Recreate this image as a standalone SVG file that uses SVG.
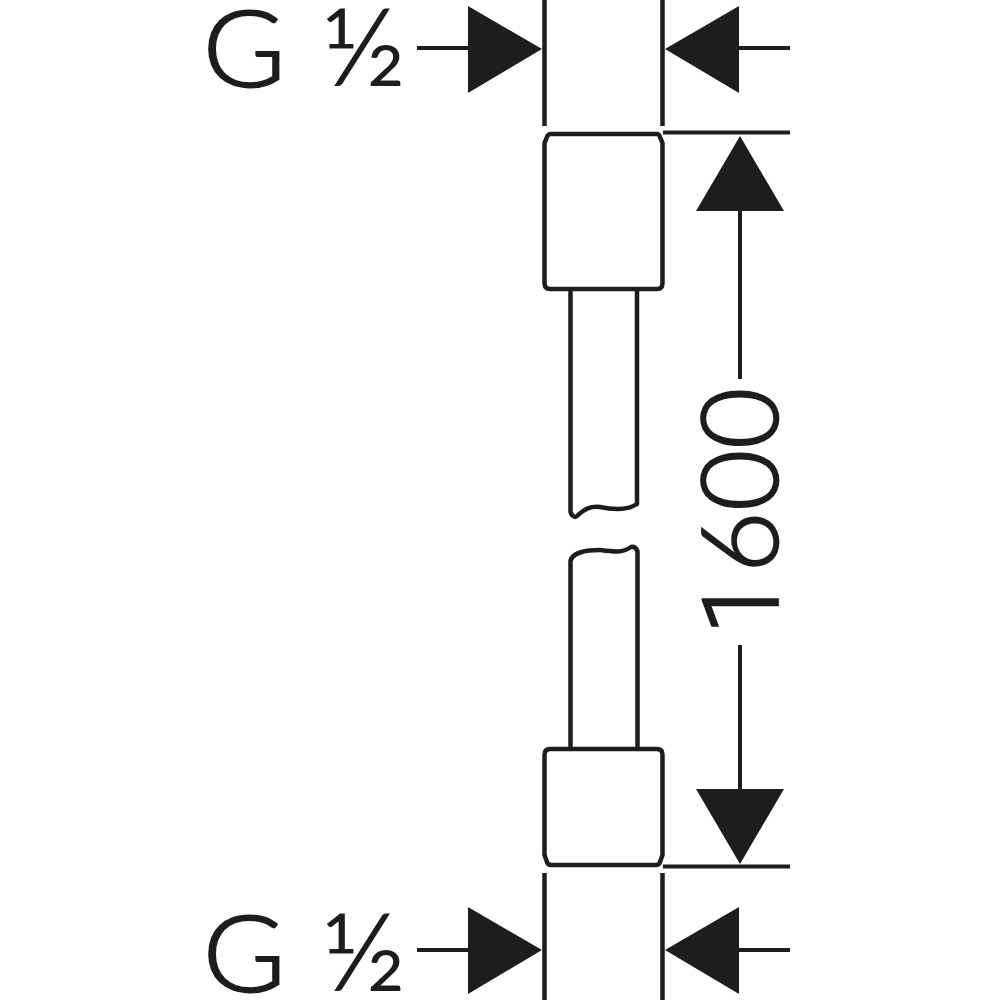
<svg xmlns="http://www.w3.org/2000/svg" width="1000" height="1000" viewBox="0 0 1000 1000">
<style>
.l{fill:none;stroke:#1d1d1b;stroke-width:4.5;stroke-linejoin:round;stroke-linecap:butt}
.d{fill:none;stroke:#1d1d1b;stroke-width:4}
.a{fill:#1d1d1b}
text{font-family:"Lato","Liberation Sans",sans-serif;font-weight:300;fill:#1d1d1b;stroke:#1d1d1b;stroke-width:1.8}
.one{font-family:"Roboto","Liberation Sans",sans-serif}
</style>
<g id="hose">
<path class="l" d="M544.500 0V126M662.500 0V126"/>
<path class="l" d="M551 134H657Q659 134 660 137L662.500 143V283Q662.500 289 657 289H550Q544.500 289 544.500 283V143L547 137Q548 134 551 134Z"/>
<path class="l" d="M570.500 289V511Q570.500 514 573 516Q576 518 578 515C585 509 590 506 600 507C615 510 628 510 637 504V289"/>
<path class="l" d="M570.500 748V561C572 553 585 550 600 550C615 552 622 553 631 547Q635 546 637.500 551V748"/>
<path class="l" d="M550 749H657Q662.500 749 662.500 755V855L660 862Q659 865 656 865H551Q548 865 547 862L544.500 855V755Q544.500 749 550 749Z"/>
<path class="l" d="M544.500 873V1000M662.500 873V1000"/>
</g>
<g id="connectors">
<path class="d" d="M417 48H470M739 48H790M417 950H470M739 950H790"/>
<path class="d" d="M663 132.500H790M663 866.500H790M740 205V379M740 645V795"/>
<polygon class="a" points="468,6 468,93 542,49"/>
<polygon class="a" points="739,6 739,93 665,49"/>
<polygon class="a" points="468,907 468,994 542,950"/>
<polygon class="a" points="739,907 739,994 665,950"/>
<polygon class="a" points="740,136 696,211 784,211"/>
<polygon class="a" points="740,864 696,789 784,789"/>
</g>
<g id="label-top"><text transform="translate(202.600 87) scale(1.07 1)" font-size="106">G</text><text transform="translate(322 85) scale(1.09 1)" font-size="107">½</text></g>
<g id="label-bottom"><text transform="translate(202.600 992) scale(1.07 1)" font-size="106">G</text><text transform="translate(322 990) scale(1.09 1)" font-size="107">½</text></g>
<g id="label-length"><text transform="translate(778 621) rotate(-90)" font-size="106"><tspan class="one" x="-14">1</tspan><tspan x="48">6</tspan><tspan x="110">0</tspan><tspan x="172">0</tspan></text></g>
</svg>
